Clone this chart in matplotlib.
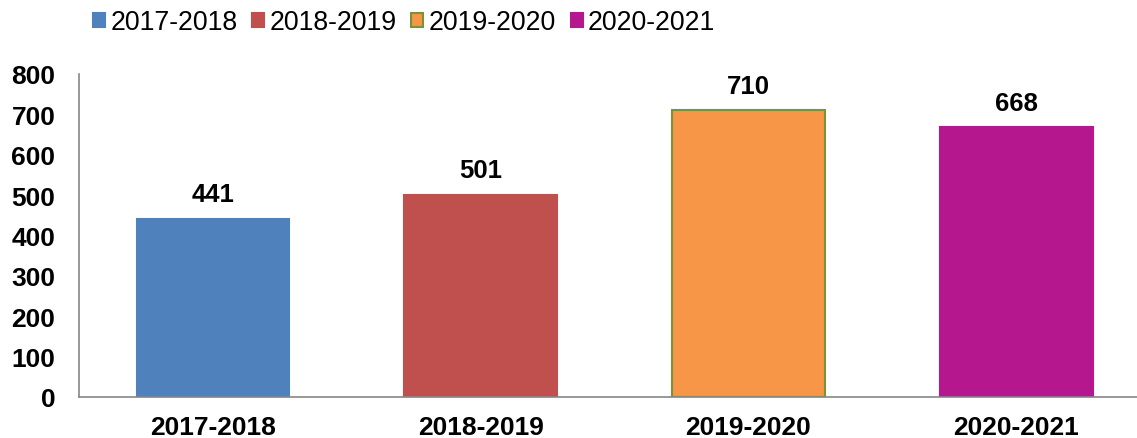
import matplotlib
matplotlib.use("Agg")
import matplotlib.pyplot as plt
from matplotlib.patches import Patch

plt.rcParams['font.family'] = ['Liberation Sans', 'DejaVu Sans']

categories = ["2017-2018", "2018-2019", "2019-2020", "2020-2021"]
values = [441, 501, 710, 668]
colors = ["#4F81BD", "#C0504D", "#F79646", "#B5178F"]
edges = ["#4F81BD", "#C0504D", "#77933C", "#B5178F"]

fig = plt.figure(figsize=(11.37, 4.39), dpi=100)
ax = fig.add_axes([0.0695, 0.0934, 0.942, 0.7358])

x = range(len(categories))
bars = ax.bar(x, values, width=0.57, color=colors, edgecolor=edges, linewidth=1.5)

for b, v in zip(bars, values):
    ax.annotate(f"{v}", (b.get_x() + b.get_width() / 2, v), xytext=(0, 9),
                textcoords="offset points", ha="center", va="bottom",
                fontsize=18.5, fontweight="bold")

ax.set_ylim(0, 800)
ax.set_yticks(range(0, 801, 100))
ax.set_xlim(-0.5, 3.5)
ax.set_xticks(list(x))
ax.set_xticklabels(categories, fontsize=19, fontweight="bold")
for lbl in ax.get_yticklabels():
    lbl.set_fontsize(19)
    lbl.set_fontweight("bold")
ax.tick_params(axis="y", length=0, pad=17)
ax.tick_params(axis="x", length=0, pad=13)

for s in ["top", "right"]:
    ax.spines[s].set_visible(False)
for s in ["left", "bottom"]:
    ax.spines[s].set_color("#868686")
    ax.spines[s].set_linewidth(1.2)

handles = [Patch(facecolor=c, edgecolor=e, linewidth=1.5, label=l)
           for c, e, l in zip(colors, edges, categories)]
fig.legend(handles=handles, loc="center left", bbox_to_anchor=(0.0818, 0.947), ncol=4,
           frameon=False, fontsize=19.2, handlelength=0.45, handleheight=0.45,
           handletextpad=0.2, columnspacing=0.55, borderpad=0, borderaxespad=0)

fig.savefig("out.png", dpi=100)
